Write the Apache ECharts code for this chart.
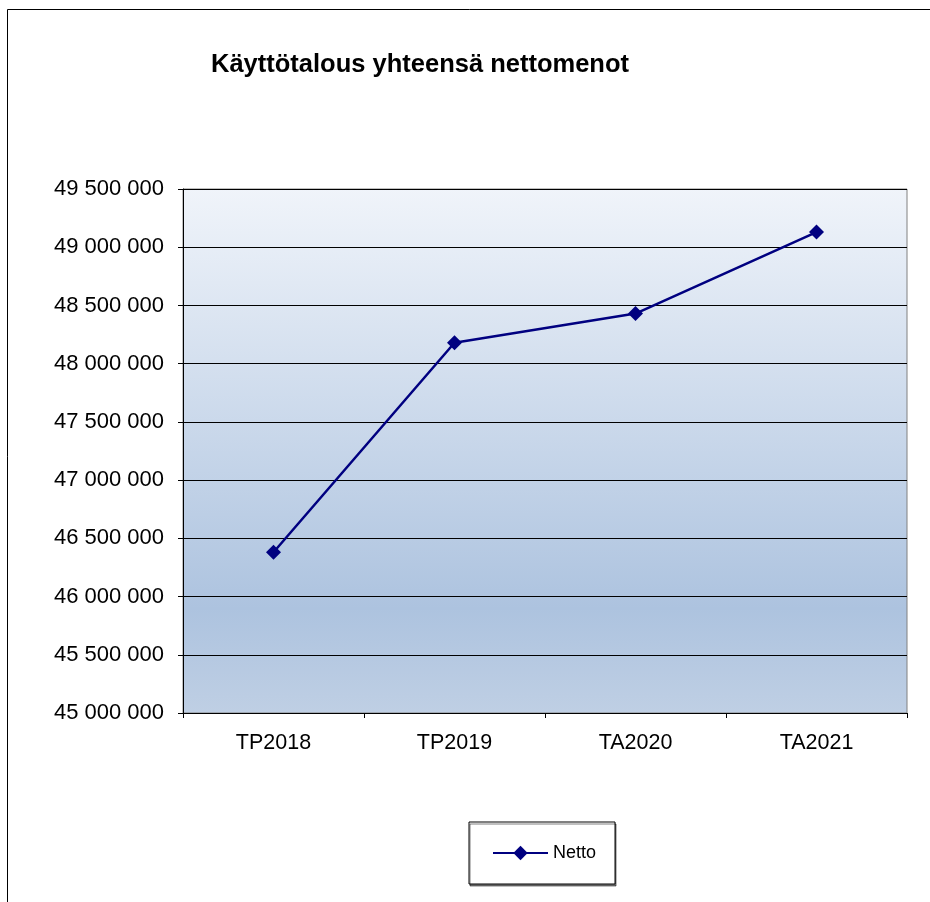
<!DOCTYPE html>
<html><head><meta charset="utf-8">
<script src="https://cdn.jsdelivr.net/npm/echarts@6/dist/echarts.min.js"></script>
<style>html,body{margin:0;padding:0;background:#fff}#c{width:930px;height:902px}</style>
</head><body><div id="c"></div>
<script>
const categories = ['TP2018', 'TP2019', 'TA2020', 'TA2021'];
const netto = [46380000, 48180000, 48430000, 49130000];
const seriesName = 'Netto';
const titleText = 'Käyttötalous yhteensä nettomenot';

const chart = echarts.init(document.getElementById('c'));
const fmt = v => String(v).replace(/\B(?=(\d{3})+(?!\d))/g, ' ');
chart.setOption({
  animation: false,
  backgroundColor: '#fff',
  textStyle: { fontFamily: 'Liberation Sans, Arial, sans-serif' },
  graphic: [{
    type: 'rect', shape: { x: 7.5, y: 9.5, width: 1000, height: 1000 },
    style: { fill: 'none', stroke: '#000', lineWidth: 1 }, z: -1
  }],
  title: {
    text: titleText, left: 415, top: 47, textAlign: 'center',
    textStyle: { fontSize: 25.5, fontWeight: 'bold', color: '#000', fontFamily: 'Liberation Sans, Arial, sans-serif' }
  },
  grid: {
    left: 183, right: 23, top: 189, bottom: 189, show: true,
    borderColor: '#808080', borderWidth: 1,
    backgroundColor: new echarts.graphic.LinearGradient(0, 0, 0, 1, [
      { offset: 0, color: '#f0f4fa' },
      { offset: 0.8, color: '#adc3df' },
      { offset: 1, color: '#bfcfe4' }
    ])
  },
  legend: {
    left: 469, top: 822, orient: 'horizontal',
    padding: [22, 19, 22, 23],
    borderColor: '#000', borderWidth: 1, backgroundColor: '#fff',
    shadowColor: 'rgba(0,0,0,0.5)', shadowOffsetX: 1, shadowOffsetY: 2,
    itemWidth: 55, itemHeight: 18, itemGap: 5,
    textStyle: { fontSize: 18, color: '#000', padding: [0, 0, 0, 0] },
    data: [seriesName]
  },
  xAxis: {
    type: 'category', data: categories, boundaryGap: true,
    axisLine: { lineStyle: { color: '#000', width: 1 } },
    axisTick: { show: true, length: 5, lineStyle: { color: '#000' }, alignWithLabel: false },
    axisLabel: { fontSize: 21.5, color: '#000', margin: 19 }
  },
  yAxis: {
    type: 'value', min: 45000000, max: 49500000, interval: 500000,
    axisLine: { show: true, lineStyle: { color: '#000', width: 1 } },
    axisTick: { show: true, length: 5, lineStyle: { color: '#000' } },
    axisLabel: { fontSize: 22, color: '#000', margin: 19, formatter: fmt },
    splitLine: { show: true, lineStyle: { color: '#000', width: 1 } }
  },
  series: [{
    name: seriesName, type: 'line', data: netto,
    symbol: 'diamond', symbolSize: 15,
    lineStyle: { color: '#000080', width: 2.5 },
    itemStyle: { color: '#000080' }
  }]
});
</script></body></html>
